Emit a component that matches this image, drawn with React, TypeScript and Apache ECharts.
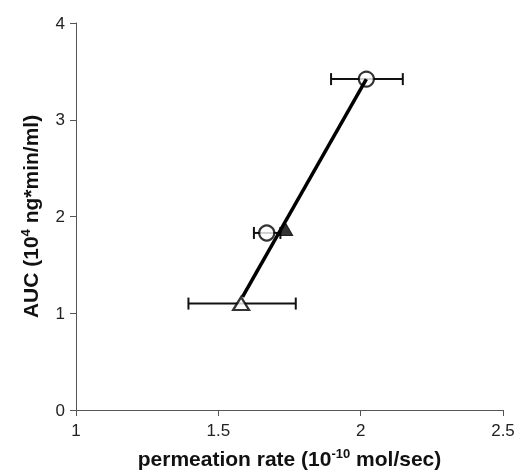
import React, { useEffect, useRef } from "react";
import * as echarts from "echarts";

const openTriangleX = [1.58];
const openTriangleY = [1.1];
const openCircleX = [1.67, 2.02];
const openCircleY = [1.83, 3.42];
const filledTriangleX = [1.735];
const filledTriangleY = [1.87];

// horizontal error bars: [y, xLow, xHigh]
const errY = [1.1, 1.83, 3.42];
const errLow = [1.395, 1.625, 1.896];
const errHigh = [1.772, 1.718, 2.148];

const fitX = [1.585, 2.02];
const fitY = [1.17, 3.42];

const xTicks = ["1", "1.5", "2", "2.5"];
const yTicks = ["0", "1", "2", "3", "4"];

const FONT = "Liberation Sans, Arial, sans-serif";

export default function App() {
  const ref = useRef<HTMLDivElement>(null);
  useEffect(() => {
    if (!ref.current) return;
    const chart = echarts.init(ref.current, undefined, { renderer: "svg" });
    const errData = errY.map((y, i) => [errLow[i], errHigh[i], y]);
    const titleStyle = {
      fontFamily: FONT,
      fontWeight: "bold",
      fontSize: 21,
      color: "#111",
      rich: {
        sup: { fontFamily: FONT, fontWeight: "bold", fontSize: 13, color: "#111", padding: [0, 0, 10, 0] },
      },
    };
    chart.setOption({
      animation: false,
      grid: { left: 76, right: 23, top: 23, bottom: 62 },
      xAxis: {
        type: "value",
        min: 1,
        max: 2.5,
        interval: 0.5,
        name: "permeation rate (10{sup|-10} mol/sec)",
        nameLocation: "middle",
        nameGap: 37,
        nameTextStyle: titleStyle,
        axisLine: { show: true, lineStyle: { color: "#555", width: 1 } },
        axisTick: { show: true, inside: false, length: 6, lineStyle: { color: "#555" } },
        axisLabel: {
          fontFamily: FONT,
          fontSize: 17,
          color: "#222",
          margin: 12,
          formatter: (v: number) => {
            const idx = Math.round((v - 1) / 0.5);
            return xTicks[idx] ?? "";
          },
        },
        splitLine: { show: false },
      },
      yAxis: {
        type: "value",
        min: 0,
        max: 4,
        interval: 1,
        name: "AUC (10{sup|4} ng*min/ml)",
        nameLocation: "middle",
        nameRotate: 90,
        nameGap: 34,
        nameTextStyle: titleStyle,
        axisLine: { show: true, lineStyle: { color: "#555", width: 1 } },
        axisTick: { show: true, inside: false, length: 6, lineStyle: { color: "#555" } },
        axisLabel: {
          fontFamily: FONT,
          fontSize: 17,
          color: "#222",
          margin: 11,
          formatter: (v: number) => yTicks[Math.round(v)] ?? "",
        },
        splitLine: { show: false },
      },
      series: [
        {
          type: "custom",
          z: 1,
          data: errData,
          renderItem: (params: any, api: any) => {
            const lo = api.coord([api.value(0), api.value(2)]);
            const hi = api.coord([api.value(1), api.value(2)]);
            const cap = 6;
            const style = { stroke: "#111", lineWidth: 2, fill: "none" };
            return {
              type: "group",
              children: [
                { type: "line", shape: { x1: lo[0], y1: lo[1], x2: hi[0], y2: hi[1] }, style },
                { type: "line", shape: { x1: lo[0], y1: lo[1] - cap, x2: lo[0], y2: lo[1] + cap }, style },
                { type: "line", shape: { x1: hi[0], y1: hi[1] - cap, x2: hi[0], y2: hi[1] + cap }, style },
              ],
            };
          },
        },
        {
          type: "scatter",
          z: 3,
          symbol: "circle",
          symbolSize: 15,
          itemStyle: { color: "#fff", borderColor: "#000", borderWidth: 2.2 },
          data: openCircleX.map((x, i) => [x, openCircleY[i]]),
        },
        {
          type: "scatter",
          z: 3,
          symbol: "triangle",
          symbolSize: [16, 13],
          itemStyle: { color: "#fff", borderColor: "#000", borderWidth: 2.2 },
          data: openTriangleX.map((x, i) => [x, openTriangleY[i]]),
        },
        {
          type: "scatter",
          z: 3,
          symbol: "triangle",
          symbolSize: [15, 13],
          itemStyle: { color: "#000", borderColor: "#000", borderWidth: 1 },
          data: filledTriangleX.map((x, i) => [x, filledTriangleY[i]]),
        },
        {
          type: "line",
          z: 4,
          symbol: "none",
          lineStyle: { color: "#000", width: 3.5 },
          data: fitX.map((x, i) => [x, fitY[i]]),
        },
      ],
    });
    return () => chart.dispose();
  }, []);
  return <div ref={ref} style={{ position: "fixed", left: 0, top: 0, width: 526, height: 474 }} />;
}
